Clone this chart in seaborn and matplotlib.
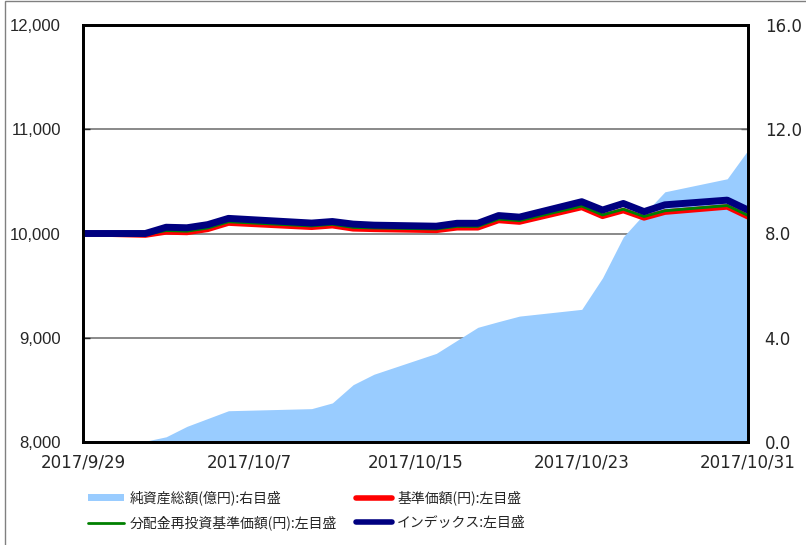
import numpy as np
import pandas as pd
import seaborn as sns
import matplotlib.pyplot as plt
from matplotlib.patches import Rectangle
from matplotlib.lines import Line2D
from matplotlib.patches import Patch

# 営業日ごとのデータ
dates = ["2017-09-29", "2017-10-02", "2017-10-03", "2017-10-04", "2017-10-05", "2017-10-06",
         "2017-10-10", "2017-10-11", "2017-10-12", "2017-10-13", "2017-10-16", "2017-10-17",
         "2017-10-18", "2017-10-19", "2017-10-20", "2017-10-23", "2017-10-24", "2017-10-25",
         "2017-10-26", "2017-10-27", "2017-10-30", "2017-10-31"]
net_assets = [0.02, 0.03, 0.2, 0.6, 0.9, 1.2, 1.28, 1.5, 2.2, 2.6, 3.4, 3.9,
              4.4, 4.62, 4.83, 5.09, 6.3, 7.87, 8.75, 9.6, 10.1, 11.2]
nav = [10000, 9985, 10015, 10010, 10040, 10100, 10060, 10075, 10045, 10040, 10030, 10055,
       10055, 10125, 10110, 10250, 10165, 10220, 10150, 10205, 10255, 10160]
nav_reinv = [10000, 9990, 10028, 10022, 10052, 10112, 10072, 10088, 10058, 10053, 10043, 10068,
             10068, 10138, 10123, 10263, 10178, 10233, 10163, 10218, 10268, 10173]
index_vals = [10000, 10000, 10060, 10055, 10085, 10145, 10100, 10115, 10090, 10080, 10070, 10098,
              10098, 10172, 10157, 10305, 10225, 10288, 10210, 10275, 10320, 10225]

tick_dates = ["2017-09-29", "2017-10-07", "2017-10-15", "2017-10-23", "2017-10-31"]
tick_labels = ["2017/9/29", "2017/10/7", "2017/10/15", "2017/10/23", "2017/10/31"]

df = pd.DataFrame({
    "date": pd.to_datetime(dates),
    "assets": net_assets,
    "nav": nav,
    "reinv": nav_reinv,
    "index": index_vals,
})

sns.set_style("white")
plt.rcParams['font.family'] = ['Noto Sans CJK JP', 'DejaVu Sans']

fig = plt.figure(figsize=(8.06, 5.45), dpi=100)
ax = fig.add_axes([83/806, 1-442/545, (748-83)/806, (442-25)/545])
ax2 = ax.twinx()

# 純資産総額 (右目盛) - 背面
ax2.fill_between(df["date"], 0, df["assets"], color="#99CCFF", lw=0, zorder=2)
ax2.set_ylim(0, 16)
ax2.set_yticks([0, 4, 8, 12, 16])
ax2.set_yticklabels(["0.0", "4.0", "8.0", "12.0", "16.0"])
ax2.grid(axis="y", color="#808080", lw=1.3, zorder=0)
ax2.set_axisbelow(True)

# 線 (左目盛)
ax.set_zorder(ax2.get_zorder() + 1)
ax.patch.set_visible(False)
sns.lineplot(data=df, x="date", y="nav", ax=ax, color="#FF0000", lw=4)
sns.lineplot(data=df, x="date", y="reinv", ax=ax, color="#008000", lw=2)
sns.lineplot(data=df, x="date", y="index", ax=ax, color="#000080", lw=5)
ax.set_ylim(8000, 12000)
ax.set_yticks([8000, 9000, 10000, 11000, 12000])
ax.set_yticklabels(["8,000", "9,000", "10,000", "11,000", "12,000"])
ax.set_xlim(pd.Timestamp("2017-09-29"), pd.Timestamp("2017-10-31"))
ax.set_xticks(pd.to_datetime(tick_dates))
ax.set_xticklabels(tick_labels)
ax.set_xlabel("")
ax.set_ylabel("")

for a in (ax, ax2):
    for s in a.spines.values():
        s.set_color("black")
        s.set_linewidth(2)

ax.tick_params(axis="x", direction="in", length=5, width=1, color="#404040", pad=8, labelsize=12)
ax.tick_params(axis="y", direction="in", length=5, width=1, left=True, pad=16, labelsize=12)
ax2.tick_params(axis="y", direction="in", length=5, width=1, color="#606060", right=True, pad=12, labelsize=12)
for lab in ax.get_yticklabels():
    lab.set_family(["Liberation Sans", "DejaVu Sans"])
for lab in ax.get_xticklabels() + ax2.get_yticklabels():
    lab.set_family(["DejaVu Sans"])

# 凡例
leg_font = 10
h1 = [Patch(facecolor="#99CCFF", edgecolor="none"),
      Line2D([], [], color="#008000", lw=2)]
l1 = ["純資産総額(億円):右目盛", "分配金再投資基準価額(円):左目盛"]
h2 = [Line2D([], [], color="#FF0000", lw=4),
      Line2D([], [], color="#000080", lw=4)]
l2 = ["基準価額(円):左目盛", "インデックス:左目盛"]
kw = dict(loc="upper left", frameon=False, fontsize=leg_font, handlelength=2.6,
          handleheight=0.45, handletextpad=0.4, labelspacing=0.75, borderaxespad=0)
fig.legend(h1, l1, bbox_to_anchor=(82/806, 1-485/545), **kw)
fig.legend(h2, l2, bbox_to_anchor=(350/806, 1-485/545), **kw)

# 外枠
fig.add_artist(Rectangle((5/806, -0.05), 1.2, 1.05 - 1.5/545, transform=fig.transFigure,
                         fill=False, ec="#808080", lw=1))

fig.savefig("out.png", dpi=100)
